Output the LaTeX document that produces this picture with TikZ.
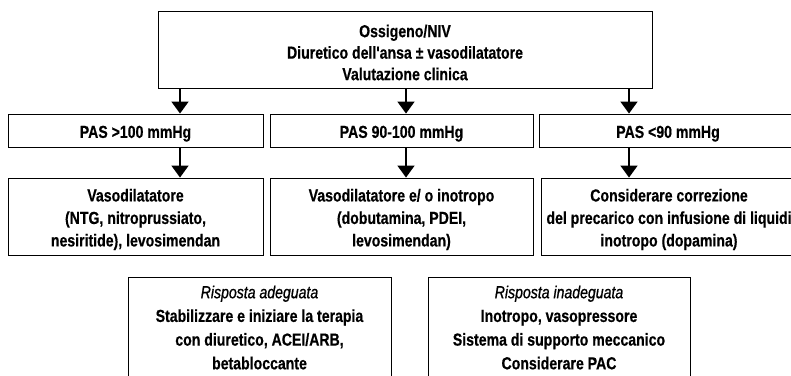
\documentclass[tikz,border=0pt]{standalone}
\usepackage{fontspec}
\newfontfamily\cond{Liberation Sans}[FakeStretch=0.81,BoldFeatures={FakeBold=0.5},ItalicFeatures={FakeBold=0.9}]
\usetikzlibrary{arrows.meta}
\newcommand\myTopStrut{\rule{0pt}{18.5pt}}
\begin{document}
\begin{tikzpicture}[x=1pt,y=-1pt,
  box/.style={draw=black,line width=0.9pt,align=center,inner sep=0pt,
    font=\cond\bfseries\fontsize{17.4}{21.5}\selectfont},
  boxb/.style={box,font=\cond\bfseries\fontsize{17.4}{22.5}\selectfont},
  frame/.style={draw=black,line width=0.9pt,inner sep=0pt},
  lbl/.style={align=center,inner sep=0pt,
    font=\cond\bfseries\fontsize{17.4}{23.7}\selectfont},
  arr/.style={draw=black,line width=1.8pt,-{Triangle[width=17pt,length=12pt]}}]
\useasboundingbox (0,0) rectangle (791,375);
\clip (0,0) rectangle (791,375);
% top box
\node[box,minimum width=494pt,minimum height=77pt] (top) at (405,49.5)
  {\myTopStrut Ossigeno/NIV\\Diuretico dell'ansa ± vasodilatatore\\Valutazione clinica};
% row 2
\node[box,minimum width=255pt,minimum height=33pt] (a2) at (135.5,130.5) {\myTopStrut PAS >100 mmHg};
\node[box,minimum width=263pt,minimum height=33pt] (b2) at (401.5,130.5) {\myTopStrut PAS 90-100 mmHg};
\node[box,minimum width=258pt,minimum height=33pt] (c2) at (668,130.5) {\myTopStrut PAS <90 mmHg};
% row 3
\node[boxb,minimum width=255pt,minimum height=77pt] (a3) at (135.5,216.5)
  {\myTopStrut Vasodilatatore\\(NTG, nitroprussiato,\\nesiritide), levosimendan};
\node[boxb,minimum width=263pt,minimum height=77pt] (b3) at (401.5,216.5)
  {\myTopStrut Vasodilatatore e/ o inotropo\\(dobutamina, PDEI,\\levosimendan)};
\node[boxb,minimum width=256pt,minimum height=77pt] (c3) at (669,216.5)
  {\myTopStrut Considerare correzione\\del precarico con infusione di liquidi\\inotropo (dopamina)};
% arrows
\coordinate (x1) at (180,0);
\coordinate (x2) at (406,0);
\coordinate (x3) at (629,0);
\draw[arr] (top.south -| x1) -- (a2.north -| x1);
\draw[arr] (top.south -| x2) -- (b2.north -| x2);
\draw[arr] (top.south -| x3) -- (c2.north -| x3);
\draw[arr] (a2.south -| x1) -- (a3.north -| x1);
\draw[arr] (b2.south -| x2) -- (b3.north -| x2);
\draw[arr] (c2.south -| x3) -- (c3.north -| x3);
% row 4
\node[frame,minimum width=263pt,minimum height=140pt,anchor=north] (a4) at (259.5,277) {};
\node[frame,minimum width=262pt,minimum height=140pt,anchor=north] (b4) at (559,277) {};
\node[lbl,anchor=north] (a4t) at (259.5,279.5)
  {\myTopStrut{\mdseries\itshape Risposta adeguata}\\Stabilizzare e iniziare la terapia\\con diuretico, ACEI/ARB,\\betabloccante};
\node[lbl,anchor=north] (b4t) at (559,279.5)
  {\myTopStrut{\mdseries\itshape Risposta inadeguata}\\Inotropo, vasopressore\\Sistema di supporto meccanico\\Considerare PAC};
\end{tikzpicture}
\end{document}
